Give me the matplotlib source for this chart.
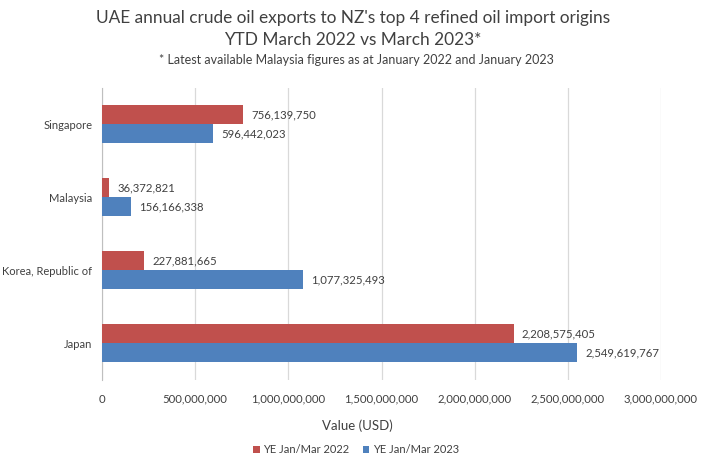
import matplotlib.pyplot as plt
import numpy as np

plt.rcParams['font.family'] = ['Lato', 'DejaVu Sans']

countries = ["Japan", "Korea, Republic of", "Malaysia", "Singapore"]
ye_2022 = [2208575405, 227881665, 36372821, 756139750]
ye_2023 = [2549619767, 1077325493, 156166338, 596442023]

red = "#C0504D"
blue = "#4F81BD"
txt = "#404040"

fig = plt.figure(figsize=(7.01, 4.61), dpi=100)
ax = fig.add_axes([0.1455, 0.176, 0.7975, 0.634])

y = np.arange(len(countries))
h = 0.26
ax.barh(y + h / 2, ye_2022, height=h, color=red, label="YE Jan/Mar 2022", zorder=3)
ax.barh(y - h / 2, ye_2023, height=h, color=blue, label="YE Jan/Mar 2023", zorder=3)

for yi, v in zip(y, ye_2022):
    ax.annotate(f"{v:,}", (v, yi + h / 2), xytext=(6, 0), textcoords="offset points",
                va="center", ha="left", fontsize=8.2, color=txt)
for yi, v in zip(y, ye_2023):
    ax.annotate(f"{v:,}", (v, yi - h / 2), xytext=(6, 0), textcoords="offset points",
                va="center", ha="left", fontsize=8.2, color=txt)

ticks = np.arange(0, 3.01e9, 5e8)
ax.set_xlim(0, 3e9)
ax.set_ylim(-0.5, 3.5)
ax.set_xticks(ticks)
ax.set_xticklabels([f"{int(t):,}" for t in ticks], fontsize=8.2, color=txt)
ax.set_yticks(y)
ax.set_yticklabels(countries, fontsize=8, color=txt)
ax.tick_params(axis="y", length=0, pad=7)
ax.tick_params(axis="x", length=0, pad=10)
ax.grid(axis="x", color="#D9D9D9", linewidth=0.9, zorder=0)
for s in ["top", "right", "bottom"]:
    ax.spines[s].set_visible(False)
ax.spines["left"].set_color("#BFBFBF")

ax.set_xlabel("Value (USD)", fontsize=9.5, color=txt)
ax.xaxis.set_label_coords(0.456, -0.135)

fig.text(0.503, 0.962, "UAE annual crude oil exports to NZ's top 4 refined oil import origins",
         ha="center", va="center", fontsize=12.4, color=txt)
fig.text(0.503, 0.914, "YTD March 2022 vs March 2023*", ha="center", va="center",
         fontsize=12.4, color=txt)
fig.text(0.508, 0.869, "* Latest available Malaysia figures as at January 2022 and January 2023",
         ha="center", va="center", fontsize=9, color=txt)

fig.legend(loc="center", bbox_to_anchor=(0.508, 0.024), ncol=2, frameon=False,
           fontsize=8, handlelength=0.6, handleheight=0.6, handletextpad=0.3,
           columnspacing=1.2, labelcolor=txt)

fig.savefig("out.png", dpi=100)
